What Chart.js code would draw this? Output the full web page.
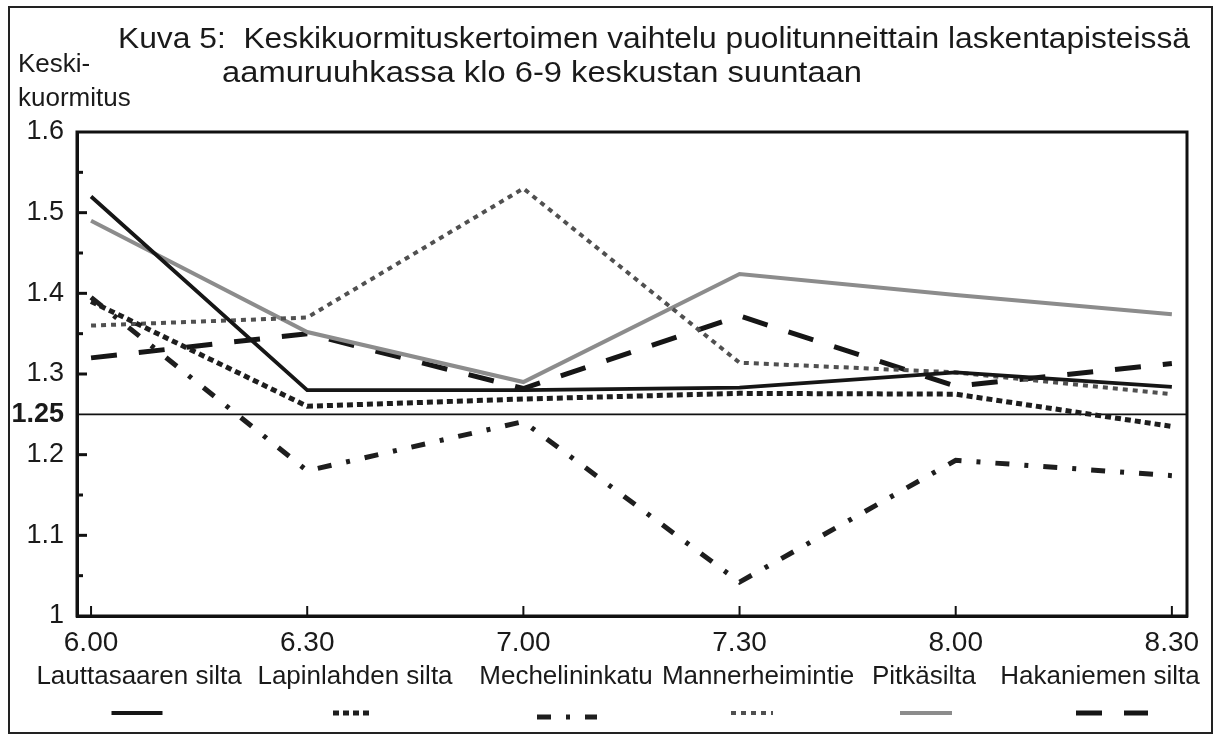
<!DOCTYPE html>
<html>
<head>
<meta charset="utf-8">
<script src="https://cdn.jsdelivr.net/npm/chart.js@4"></script>
<style>
html,body{margin:0;padding:0;background:#fff;}
#wrap{position:relative;width:1218px;height:739px;}
</style>
</head>
<body>
<div id="wrap"><canvas id="c" width="1218" height="739"></canvas></div>
<script>
// ---- data ----
const categories = ["6.00", "6.30", "7.00", "7.30", "8.00", "8.30"];
const seriesNames = ["Lauttasaaren silta", "Lapinlahden silta", "Mechelininkatu", "Mannerheimintie", "Pitkäsilta", "Hakaniemen silta"];
const lauttasaari = [1.52, 1.28, 1.28, 1.283, 1.302, 1.284];
const lapinlahti  = [1.39, 1.26, 1.269, 1.276, 1.275, 1.235];
const mechelin    = [1.395, 1.18, 1.241, 1.042, 1.193, 1.174];
const mannerheim  = [1.36, 1.37, 1.53, 1.314, 1.302, 1.275];
const pitkasilta  = [1.49, 1.352, 1.29, 1.424, 1.398, 1.374];
const hakaniemi   = [1.32, 1.35, 1.282, 1.372, 1.285, 1.313];
const yTickValues = [1, 1.1, 1.2, 1.25, 1.3, 1.4, 1.5, 1.6];
const yMinorValues = [1.05, 1.15, 1.35, 1.45, 1.55];
const referenceLevel = 1.25;
const titleLine1 = "Kuva 5:  Keskikuormituskertoimen vaihtelu puolitunneittain laskentapisteissä";
const titleLine2 = "aamuruuhkassa klo 6-9 keskustan suuntaan";
const yTitle = ["Keski-", "kuormitus"];

// ---- styles ----
const FONT = "'Liberation Sans', Arial, Helvetica, sans-serif";
const styles = [
  {color:'#161616', width:3.8, dash:[]},
  {color:'#1e1e1e', width:5, dash:[6,4]},
  {color:'#1e1e1e', width:5, dash:[14,15,4,15]},
  {color:'#505050', width:4, dash:[5,5]},
  {color:'#8c8c8c', width:4, dash:[]},
  {color:'#161616', width:5, dash:[26,22]}
];
const seriesData = [lauttasaari, lapinlahti, mechelin, mannerheim, pitkasilta, hakaniemi];

const datasets = seriesData.map((arr, i) => ({
  label: seriesNames[i],
  data: arr.map((v, j) => ({x: j, y: v})),
  borderColor: styles[i].color,
  borderWidth: styles[i].width,
  borderDash: styles[i].dash,
  borderCapStyle: 'butt',
  borderJoinStyle: 'miter',
  pointRadius: 0,
  tension: 0,
  fill: false
}));

// legend layout (centres)
const legendTextX = [139, 355, 566, 758, 924, 1100];
const legendSampleX = [137, 353, 567, 752, 926, 1112];
const legendSampleW = [51, 40, 60, 42, 52, 72];

function fitText(ctx, text, x, y, font, targetW) {
  ctx.font = font;
  const w = ctx.measureText(text).width;
  ctx.save();
  ctx.translate(x, y);
  ctx.scale(targetW / w, 1);
  ctx.fillText(text, 0, 0);
  ctx.restore();
}

const decor = {
  id: 'decor',
  beforeDatasetsDraw(chart) {
    const ctx = chart.ctx, a = chart.chartArea, ys = chart.scales.y;
    ctx.save();
    const yr = ys.getPixelForValue(referenceLevel);
    ctx.strokeStyle = '#111'; ctx.lineWidth = 1.6;
    ctx.beginPath(); ctx.moveTo(a.left, yr); ctx.lineTo(a.right, yr); ctx.stroke();
    ctx.restore();
  },
  afterDraw(chart) {
    const ctx = chart.ctx, a = chart.chartArea, ys = chart.scales.y, xs = chart.scales.x;
    ctx.save();
    // outer frame
    ctx.strokeStyle = '#222'; ctx.lineWidth = 2;
    ctx.strokeRect(9, 7, 1203, 726);
    // plot frame
    ctx.strokeStyle = '#111'; ctx.lineWidth = 3;
    ctx.strokeRect(a.left, a.top, a.right - a.left, a.bottom - a.top);
    // inner y ticks
    yTickValues.forEach(v => {
      if (v === 1 || v === 1.6 || v === referenceLevel) return;
      const y = ys.getPixelForValue(v);
      ctx.beginPath(); ctx.moveTo(a.left, y); ctx.lineTo(a.left + 10, y); ctx.stroke();
    });
    yMinorValues.forEach(v => {
      const y = ys.getPixelForValue(v);
      ctx.beginPath(); ctx.moveTo(a.left, y); ctx.lineTo(a.left + 6, y); ctx.stroke();
    });
    // inner x ticks
    ctx.lineWidth = 2;
    categories.forEach((c, i) => {
      const x = xs.getPixelForValue(i);
      ctx.beginPath(); ctx.moveTo(x, a.bottom); ctx.lineTo(x, a.bottom - 10); ctx.stroke();
    });
    // titles
    ctx.fillStyle = '#1a1a1a';
    ctx.textBaseline = 'alphabetic';
    ctx.textAlign = 'left';
    fitText(ctx, titleLine1, 118, 48, '29px ' + FONT, 1072);
    fitText(ctx, titleLine2, 222, 82, '29px ' + FONT, 640);
    ctx.font = '26px ' + FONT;
    ctx.fillText(yTitle[0], 18, 72);
    ctx.fillText(yTitle[1], 18, 106);
    // legend
    ctx.font = '26px ' + FONT;
    ctx.textAlign = 'center';
    ctx.textBaseline = 'middle';
    chart.data.datasets.forEach((ds, i) => {
      ctx.fillStyle = '#1a1a1a';
      ctx.fillText(ds.label, legendTextX[i], 677);
      const cx = legendSampleX[i], w = legendSampleW[i];
      const yy = i === 2 ? 717 : 713;
      ctx.strokeStyle = ds.borderColor;
      ctx.lineWidth = ds.borderWidth;
      ctx.setLineDash(ds.borderDash);
      ctx.lineCap = 'butt';
      ctx.beginPath(); ctx.moveTo(cx - w / 2, yy); ctx.lineTo(cx + w / 2, yy); ctx.stroke();
      ctx.setLineDash([]);
    });
    ctx.restore();
  }
};

new Chart(document.getElementById('c'), {
  type: 'line',
  data: { datasets },
  options: {
    responsive: false,
    animation: false,
    events: [],
    layout: { padding: { left: 0, right: 31, top: 132, bottom: 0 } },
    plugins: { legend: { display: false }, title: { display: false }, tooltip: { enabled: false } },
    scales: {
      x: {
        type: 'linear',
        min: -0.065, max: 5.07,
        grid: { display: false, drawTicks: false },
        border: { display: true, color: '#111', width: 3 },
        afterBuildTicks(scale) { scale.ticks = categories.map((c, i) => ({ value: i })); },
        afterFit(scale) { scale.height = 123; },
        ticks: {
          padding: 10,
          color: '#1a1a1a',
          font: { family: FONT, size: 28 },
          maxRotation: 0,
          autoSkip: false,
          callback: (v) => categories[v] ?? ''
        }
      },
      y: {
        type: 'linear',
        min: 1, max: 1.6,
        grid: { display: false, drawTicks: false },
        border: { display: true, color: '#111', width: 3 },
        afterBuildTicks(scale) { scale.ticks = yTickValues.map(v => ({ value: v })); },
        afterFit(scale) { scale.width = 77; },
        ticks: {
          padding: 13,
          color: '#1a1a1a',
          font: (ctx) => ({ family: FONT, size: 27, weight: (ctx.tick && ctx.tick.value === referenceLevel) ? 'bold' : 'normal' }),
          callback: (v) => String(v)
        }
      }
    }
  },
  plugins: [decor]
});
</script>
</body>
</html>
